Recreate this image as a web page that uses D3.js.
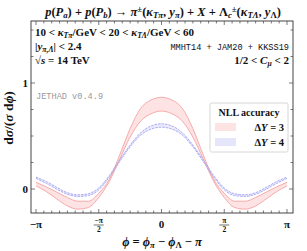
<!DOCTYPE html>
<html>
<head>
<meta charset="utf-8">
<script src="https://cdn.jsdelivr.net/npm/d3@7"></script>
<style>
  body { margin: 0; background: #fff; }
  svg { display: block; }
  text { font-family: "Liberation Serif", "DejaVu Serif", serif; fill: #111; }
  .mono { font-family: "Liberation Mono", "DejaVu Sans Mono", monospace; }
</style>
</head>
<body>
<div id="chart"></div>
<script>
var width = 307;
var height = 251;

// phi grid, in units of pi/12
var phiSteps = [-12, -11, -10, -9, -8, -7, -6, -5, -4, -3, -2, -1, 0, 1, 2, 3, 4, 5, 6, 7, 8, 9, 10, 11, 12];

// Delta Y = 3 band (upper / lower edge)
var dy3Upper = [0.063, 0.02, -0.03, -0.08, -0.115, -0.115, -0.04, 0.09, 0.32, 0.57, 0.76, 0.84, 0.865,
                0.84, 0.76, 0.57, 0.32, 0.09, -0.04, -0.115, -0.115, -0.08, -0.03, 0.02, 0.063];
var dy3Lower = [0.03, -0.025, -0.095, -0.16, -0.19, -0.175, -0.08, 0.07, 0.28, 0.49, 0.64, 0.71, 0.735,
                0.71, 0.64, 0.49, 0.28, 0.07, -0.08, -0.175, -0.19, -0.16, -0.095, -0.025, 0.03];
// Delta Y = 4 band
var dy4Upper = [0.112, 0.07, 0.015, -0.035, -0.055, -0.045, 0.01, 0.125, 0.275, 0.415, 0.53, 0.595, 0.615,
                0.595, 0.53, 0.415, 0.275, 0.125, 0.01, -0.045, -0.055, -0.035, 0.015, 0.07, 0.112];
var dy4Lower = [0.1, 0.052, -0.002, -0.05, -0.07, -0.062, -0.008, 0.11, 0.258, 0.398, 0.508, 0.565, 0.583,
                0.565, 0.508, 0.398, 0.258, 0.11, -0.008, -0.062, -0.07, -0.05, -0.002, 0.052, 0.1];

var legendLabels = ["3", "4"];

var frame = {left: 31, right: 293, top: 21, bottom: 213};

var x = d3.scaleLinear().domain([-Math.PI, Math.PI]).range([36, 287]);
var y = d3.scaleLinear().domain([0, 1]).range([189, 83]);

var svg = d3.select("#chart").append("svg")
  .attr("width", width)
  .attr("height", height);

// rich text helper: parts = [text, kind]
function rich(sel, parts, size) {
  parts.forEach(function(p) {
    var t = sel.append("tspan").text(p[0]);
    var k = p[1] || "";
    if (k.indexOf("i") >= 0) t.style("font-style", "italic");
    if (k.indexOf("sub") >= 0) t.attr("baseline-shift", "-25%").style("font-size", (size * 0.7) + "px");
    if (k.indexOf("sup") >= 0) t.attr("baseline-shift", "40%").style("font-size", (size * 0.7) + "px");
  });
  return sel;
}

// title
var title = svg.append("text")
  .attr("x", 163).attr("y", 16)
  .attr("text-anchor", "middle")
  .style("font-size", "12.5px")
  .style("font-weight", "bold");
rich(title, [["p", "i"], ["(", ""], ["P", "i"], ["a", "isub"], [") + ", ""], ["p", "i"], ["(", ""], ["P", "i"], ["b", "isub"],
  [") \u2192 ", ""], ["\u03C0", "i"], ["\u00B1", "sup"], ["(", ""], ["\u03BA", "i"], ["T\u03C0", "isub"], [", ", ""], ["y", "i"], ["\u03C0", "isub"],
  [") + ", ""], ["X", "i"], [" + \u039B", ""], ["c", "isub"], ["\u00B1", "sup"], ["(", ""], ["\u03BA", "i"], ["T\u039B", "isub"],
  [", ", ""], ["y", "i"], ["\u039B", "sub"], [")", ""]], 12.5);

// bands
var area = function(up, lo) {
  return d3.area()
    .curve(d3.curveMonotoneX)
    .x(function(d, i) { return x(phiSteps[i] * Math.PI / 12); })
    .y0(function(d, i) { return y(lo[i]); })
    .y1(function(d, i) { return y(up[i]); })(phiSteps);
};
var line = function(vals) {
  return d3.line()
    .curve(d3.curveMonotoneX)
    .x(function(d, i) { return x(phiSteps[i] * Math.PI / 12); })
    .y(function(d) { return y(d); })(vals);
};

var g = svg.append("g");
g.append("path").attr("d", area(dy3Upper, dy3Lower)).attr("fill", "#fde3e3");
g.append("path").attr("d", area(dy4Upper, dy4Lower)).attr("fill", "#e6e6fb").attr("fill-opacity", 0.8);
[dy3Upper, dy3Lower].forEach(function(v) {
  g.append("path").attr("d", line(v)).attr("fill", "none").attr("stroke", "#f6a3a3").attr("stroke-width", 0.9);
});
[dy4Upper, dy4Lower].forEach(function(v) {
  g.append("path").attr("d", line(v)).attr("fill", "none").attr("stroke", "#a3a3f3")
    .attr("stroke-width", 0.9).attr("stroke-dasharray", "2.5,1");
});

// frame
svg.append("rect")
  .attr("x", frame.left).attr("y", frame.top)
  .attr("width", frame.right - frame.left).attr("height", frame.bottom - frame.top)
  .attr("fill", "none").attr("stroke", "#444").attr("stroke-width", 1);

// x ticks every pi/16, major every pi/2
var xTicks = d3.range(-16, 17);
xTicks.forEach(function(k) {
  var px = x(k * Math.PI / 16);
  var len = (k % 8 === 0) ? 4 : 2.5;
  svg.append("line").attr("x1", px).attr("x2", px).attr("y1", frame.bottom).attr("y2", frame.bottom - len)
    .attr("stroke", "#444").attr("stroke-width", 0.7);
  svg.append("line").attr("x1", px).attr("x2", px).attr("y1", frame.top).attr("y2", frame.top + len)
    .attr("stroke", "#444").attr("stroke-width", 0.7);
});

// y ticks every 0.25
var yTicks = [-0.25, 0, 0.25, 0.5, 0.75, 1, 1.25, 1.5];
yTicks.forEach(function(v) {
  var py = y(v);
  if (py < frame.top || py > frame.bottom) return;
  var len = (v === 0 || v === 1) ? 4 : 2.5;
  svg.append("line").attr("x1", frame.left).attr("x2", frame.left + len).attr("y1", py).attr("y2", py)
    .attr("stroke", "#444").attr("stroke-width", 0.7);
  svg.append("line").attr("x1", frame.right).attr("x2", frame.right - len).attr("y1", py).attr("y2", py)
    .attr("stroke", "#444").attr("stroke-width", 0.7);
});

// y tick labels
[0, 1].forEach(function(v) {
  svg.append("text").attr("x", 28).attr("y", y(v) + 4)
    .attr("text-anchor", "end").style("font-size", "11px").style("font-weight", "bold").text(v);
});

// x tick labels
var xLabels = [{v: -Math.PI, t: "\u2212\u03C0"}, {v: 0, t: "0"}, {v: Math.PI, t: "\u03C0"}];
xLabels.forEach(function(d) {
  svg.append("text").attr("x", x(d.v)).attr("y", 228)
    .attr("text-anchor", "middle").style("font-size", "11px").style("font-weight", "bold").text(d.t);
});
var xFrac = [{v: -Math.PI / 2, t: "\u2212\u03C0"}, {v: Math.PI / 2, t: "\u03C0"}];
xFrac.forEach(function(d) {
  var px = x(d.v);
  svg.append("text").attr("x", px).attr("y", 223).attr("text-anchor", "middle")
    .style("font-size", "7.5px").style("font-weight", "bold").text(d.t);
  svg.append("line").attr("x1", px - 5).attr("x2", px + 5).attr("y1", 225).attr("y2", 225)
    .attr("stroke", "#111").attr("stroke-width", 0.6);
  svg.append("text").attr("x", px).attr("y", 232).attr("text-anchor", "middle")
    .style("font-size", "7.5px").style("font-weight", "bold").text("2");
});

// axis titles
var xt = svg.append("text").attr("x", 162).attr("y", 246).attr("text-anchor", "middle")
  .style("font-size", "12.5px").style("font-weight", "bold");
rich(xt, [["\u03D5", "i"], [" = ", ""], ["\u03D5", "i"], ["\u03C0", "isub"], [" \u2212 ", ""], ["\u03D5", "i"], ["\u039B", "sub"], [" \u2212 ", ""], ["\u03C0", "i"]], 12.5);

var yt = svg.append("text").attr("transform", "translate(13,118) rotate(-90)").attr("text-anchor", "middle")
  .style("font-size", "13.5px").style("font-weight", "bold");
rich(yt, [["d", ""], ["\u03C3", "i"], ["/(", ""], ["\u03C3", "i"], [" d", ""], ["\u03D5", "i"], [")", ""]], 13.5);

// annotations inside the frame
var a1 = svg.append("text").attr("x", 35).attr("y", 36).style("font-size", "11px").style("font-weight", "bold");
rich(a1, [["10 < ", ""], ["\u03BA", "i"], ["T\u03C0", "isub"], ["/GeV < 20 < ", ""], ["\u03BA", "i"], ["T\u039B", "isub"], ["/GeV < 60", ""]], 11);
var a2 = svg.append("text").attr("x", 35).attr("y", 50).style("font-size", "11px").style("font-weight", "bold");
rich(a2, [["|", ""], ["y", "i"], ["\u03C0,\u039B", "isub"], ["| < 2.4", ""]], 11);
var a3 = svg.append("text").attr("x", 35).attr("y", 64).style("font-size", "11px").style("font-weight", "bold");
rich(a3, [["\u221A", ""], ["s", "i"], [" = 14 TeV", ""]], 11);

svg.append("text").attr("class", "mono").attr("x", 289).attr("y", 50).attr("text-anchor", "end")
  .style("font-size", "8.6px").text("MMHT14 + JAM20 + KKSS19");
var a4 = svg.append("text").attr("x", 289).attr("y", 64).attr("text-anchor", "end")
  .style("font-size", "11px").style("font-weight", "bold");
rich(a4, [["1/2 < ", ""], ["C", "i"], ["\u03BC", "isub"], [" < 2", ""]], 11);

svg.append("text").attr("class", "mono").attr("x", 36).attr("y", 99)
  .style("font-size", "8.6px").style("fill", "#9a9a9a").text("JETHAD v0.4.9");

// legend
var lg = svg.append("g");
lg.append("rect").attr("x", 210).attr("y", 103).attr("width", 78).attr("height", 49)
  .attr("fill", "#fff").attr("stroke", "#ccc").attr("stroke-width", 0.8).attr("rx", 1.5);
lg.append("text").attr("x", 249).attr("y", 116).attr("text-anchor", "middle")
  .style("font-size", "10px").style("font-weight", "bold").text("NLL accuracy");
var swatchFill = ["#fde3e3", "#e6e6fb"];
legendLabels.forEach(function(lab, i) {
  var yy = 127 + i * 15;
  lg.append("rect").attr("x", 215).attr("y", yy - 4).attr("width", 21).attr("height", 8).attr("fill", swatchFill[i]);
  var t = lg.append("text").attr("x", 284).attr("y", yy + 4).attr("text-anchor", "end")
    .style("font-size", "10.5px").style("font-weight", "bold");
  rich(t, [["\u0394", ""], ["Y", "i"], [" = " + lab, ""]], 10.5);
});
</script>
</body>
</html>
